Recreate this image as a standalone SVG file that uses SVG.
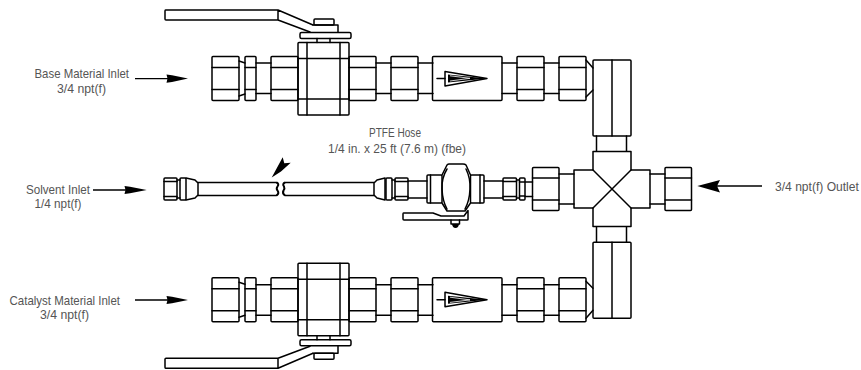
<svg xmlns="http://www.w3.org/2000/svg" width="861" height="370" viewBox="0 0 861 370">
<style>
.s{fill:none;stroke:#000;stroke-width:1.5;stroke-linejoin:round;stroke-linecap:round}
.a{fill:#000;stroke:none}
.l{fill:none;stroke:#000;stroke-width:1.3}
text{font-family:"Liberation Sans",Arial,sans-serif;font-size:13.5px;fill:#555;text-anchor:start}
</style>
<defs>
<g id="nut"><rect class="s" x="0" y="-22" width="27" height="44" rx="1"/><path class="s" d="M0-11H27M0 11H27"/></g>
<g id="branch">
<use href="#nut" x="212" y="78.5"/>
<path class="s" d="M239 61L245 63M239 96L245 94"/>
<rect class="s" x="245" y="56.5" width="11" height="44" rx="1"/>
<path class="s" d="M245 67.5H256M245 89.5H256"/>
<path class="s" d="M256 63H271M256 93.5H271"/>
<use href="#nut" x="271" y="78.5"/>
<path class="s" d="M278 10H165.5Q165 10 165 11V19Q165 20 166 20H278M278 10V20M278 10L313 25M278 20L310 32"/>
<rect class="s" x="314" y="19" width="20" height="6" rx="1"/>
<path class="s" d="M313 25H338V32"/>
<rect class="s" x="300" y="32.5" width="51" height="6" rx="1.5"/>
<path class="s" d="M317 38.5V42.5M330 38.5V42.5"/>
<rect class="s" x="298" y="42.5" width="51" height="72.5" rx="1"/>
<path class="s" d="M307 42.5V115M340 42.5V115M298 58.5H349M298 99H349"/>
<use href="#nut" x="349" y="78.5"/>
<path class="s" d="M376 63H391M376 93.5H391"/>
<use href="#nut" x="391" y="78.5"/>
<path class="s" d="M418 63H433M418 93.5H433"/>
<rect class="s" x="432.5" y="56.5" width="69.5" height="44" rx="1"/>
<path class="s" d="M437 78.5H445"/>
<path class="s" d="M445 71.5V86L487 78.5Z"/>
<path class="a" d="M448 74.500L487 78.500L448 82.500Z"/>
<path d="M450 75.800L470 78.300L450 81" fill="none" stroke="#fff" stroke-width=".8"/>
<path class="s" d="M502 63H517M502 93.500H517"/>
<use href="#nut" x="517" y="78.5"/>
<path class="s" d="M544 63H559M544 93.500H559"/>
<use href="#nut" x="559" y="78.5"/>
<path class="s" d="M586 60L593 68M586 97L593 90"/>
<rect class="s" x="593" y="60" width="38" height="76" rx="1"/>
<path class="s" d="M612 60V136M596.500 136V151M626.500 136V151"/>
</g>
</defs>
<g id="base-material-line"><use href="#branch"/></g>
<g id="catalyst-material-line"><use href="#branch" transform="translate(0,378.2) scale(1,-1)"/></g>
<g id="cross-fitting">
<path class="s" d="M593 151.500H631V170H650V208H631V226.500H593V208H574V170H593Z"/>
<path class="s" d="M593 170L631 208M631 170L593 208"/>
<path class="s" d="M559 174H574M559 204H574M650 174H665M650 204H665"/>
<g transform="translate(532.5,189)"><rect class="s" x="0" y="-21.500" width="26.500" height="43" rx="1"/><path class="s" d="M0-11H26.500M0 11H26.500"/></g>
<g transform="translate(665,189)"><rect class="s" x="0" y="-21.500" width="26.500" height="43" rx="1"/><path class="s" d="M0-11H26.500M0 11H26.500"/></g>
</g>
<g id="solvent-hose">
<rect class="s" x="164" y="178" width="13" height="22" rx="1"/>
<path class="s" d="M164 181.500H177M164 196.500H177"/>
<rect class="s" x="180" y="178" width="6" height="22" rx="1"/>
<path class="s" d="M177 180H180M177 198H180M186 178L195 180L198 183V195L195 198L186 200"/>
<path class="s" d="M198 182.500H276.500M198 195.500H276.500"/>
<path d="M276.500 182.500Q279.500 184 277.500 186.500Q276 188.500 277.500 190.500Q279.500 193.500 276.500 195.500" fill="none" stroke="#000" stroke-width="2"/>
<path d="M285 182.500Q282 184 284 186.500Q285 188.500 283.500 190.500Q282 193.500 285 195.500" fill="none" stroke="#000" stroke-width="2"/>
<path class="s" d="M285 182.500H374M285 195.500H374"/>
<path class="s" d="M374 183L377 180L385 178V200L377 198L374 195Z"/>
<rect class="s" x="386" y="178" width="6" height="22" rx="1"/>
<rect class="s" x="395" y="178" width="13" height="22" rx="1"/>
<path class="s" d="M392 180H395M392 198H395M395 181.500H408M395 196.500H408"/>
<path class="s" d="M408 181H427M408 198H427"/>
</g>
<g id="solvent-ball-valve">
<rect class="s" x="427" y="175" width="15" height="28" rx="1"/>
<path class="s" d="M430.500 175V203"/>
<rect class="s" x="470.500" y="175" width="13.500" height="28" rx="1"/>
<path class="s" d="M480 175V203"/>
<path class="s" d="M442 175L447 165Q448 164 449 164H463Q465 164 466 165L470.500 175M442 203L447 211H465L470.500 203"/>
<path class="s" d="M447 169Q441.500 178 442 189Q442.500 201 447 209M466 169Q470.500 178 470 189Q469.500 201 465 209"/>
<path class="s" d="M403.500 213H433L441 216H464L468 210.500V219.500Q468 220 467 220H404Q403 220 403 219V214Q403 213 403.500 213Z"/>
<path class="s" d="M451 220V224H459.500V220"/>
<path class="a" d="M452 224H459Q458.500 228 455.500 228Q452.500 228 452 224Z"/>
<path class="s" d="M484 181H503M484 198H503"/>
<rect class="s" x="503" y="178" width="13.500" height="22" rx="1"/>
<path class="s" d="M503 181.500H516.500M503 196.500H516.500M516.500 180H519.500M516.500 198H519.500"/>
<rect class="s" x="519.500" y="178" width="5.500" height="22" rx="1"/>
<path class="s" d="M519.500 182H525M519.500 196H525M525 182H532.500M525 196.500H532.500"/>
</g>
<g id="connectors">
<path class="l" d="M135 78.600H168"/><path class="a" d="M166.500 74.500L172 75.200L188 78.600L172 82L166.500 82.800L167.500 78.600Z"/>
<path class="l" d="M93 190H126"/><path class="a" d="M124.500 186L130 186.700L146.700 190L130 193.300L124.500 194L125.500 190Z"/>
<path class="l" d="M135 300H168"/><path class="a" d="M166.500 296L172 296.700L188 300L172 303.300L166.500 304L167.500 300Z"/>
<path class="l" d="M762 186H712"/><path class="a" d="M697.300 186L720 180L717 186L720 192.500Z"/>
<path class="a" d="M271.700 177.500L282.700 157.300L284.300 163.300L290.700 162.700L281 171.500Z"/>
</g>
<g id="labels">
<text x="34.500" y="78" textLength="94.500" lengthAdjust="spacingAndGlyphs">Base Material Inlet</text>
<text x="57" y="92.500" textLength="49" lengthAdjust="spacingAndGlyphs">3/4 npt(f)</text>
<text x="26" y="194" textLength="64" lengthAdjust="spacingAndGlyphs">Solvent Inlet</text>
<text x="34.500" y="208" textLength="47" lengthAdjust="spacingAndGlyphs">1/4 npt(f)</text>
<text x="9.500" y="305" textLength="110.500" lengthAdjust="spacingAndGlyphs">Catalyst Material Inlet</text>
<text x="40" y="319" textLength="49" lengthAdjust="spacingAndGlyphs">3/4 npt(f)</text>
<text transform="translate(775,191) scale(.895,1)">3/4 npt(f) Outlet</text>
<text x="369" y="137" textLength="52" lengthAdjust="spacingAndGlyphs">PTFE Hose</text>
<text x="328" y="153" textLength="138" lengthAdjust="spacingAndGlyphs">1/4 in. x 25 ft (7.6 m) (fbe)</text>
</g>
</svg>
